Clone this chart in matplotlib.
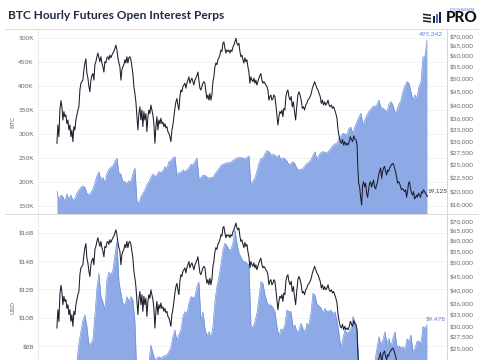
import numpy as np
import pandas as pd
import matplotlib
matplotlib.use("Agg")
import matplotlib.pyplot as plt
from matplotlib.ticker import FixedLocator, FuncFormatter, NullLocator
from matplotlib.lines import Line2D
from matplotlib.patches import Polygon

plt.rcParams['font.family'] = ['Lato', 'DejaVu Sans']

title = "BTC Hourly Futures Open Interest Perps"

# BTC price (USD) in three pieces
price_seg1 = [29400, 34100, 31000, 38500, 41500, 39500, 35500, 38000, 36450, 37000, 34450, 35500, 32750, 34100,
              31000, 32750, 29800, 33650, 32750, 35500, 37000, 38500, 39500, 45250, 47800, 48400, 49000, 53200,
              56300, 58200, 51700, 49800, 46500, 44600, 49000, 50900, 51700, 49000, 55500, 56900, 59200, 61000,
              58700, 56900, 59200, 56300, 54600, 52300, 56900, 56300, 58700, 59200, 57800, 60000, 58700, 60000,
              61000, 61800, 63400, 65000, 62500, 58700, 56300, 54600, 49000, 53200, 54600, 55500, 57800, 56300,
              59200, 56300, 58700, 59200, 57800, 54600, 51700, 46500, 44000, 41100, 36450, 32750, 37400, 39500,
              35500, 38500, 33650, 38000, 35500, 37400, 32300, 36450, 38500, 37400, 40050, 38500, 37000, 34450,
              29400, 33650, 36450, 32750, 35500, 34450, 36000, 34450, 34900, 33650, 34450, 33300, 33650, 32300,
              31900, 31000, 29800, 32750, 34100, 36450, 39000, 41100, 42200, 40050, 38500, 42900, 45250, 44600,
              46500, 47100, 47800, 45900, 47800, 49000, 50300, 47800, 49000, 49800, 48400, 47100, 49000, 49800,
              50900, 52300, 49000, 45900, 45250, 46500, 47800, 48400, 47800, 44600, 42200, 43450, 41700, 44000,
              41700, 43450, 48400, 50300, 54600, 56300, 55500, 57800, 58700, 60000, 62500, 61800, 66000, 66800,
              63400, 61000, 62500, 61800, 62500, 61000, 62500, 61800, 64000, 65000, 66800, 68700, 66000, 65000,
              66000, 61800, 59200, 60000, 57800, 56300, 58700, 56900, 57800, 54600, 52300, 47800, 50300, 49000,
              48400, 49800, 47800, 49000, 47100, 48400, 49800, 50900, 51700, 49000, 47800, 48400, 47800, 47100,
              46500, 45250, 41700, 42900, 43450, 41700, 42200, 43450, 42900, 40050, 37000, 34100, 36450, 38000,
              37400, 38500, 36450, 39000, 38500, 42900, 44600, 45250, 42900]
price_seg2 = [41700, 42900, 39500, 41100, 38000, 35500, 39500, 43450, 44600, 43450, 41700, 39000, 39500, 38500,
              40050, 40600, 41700, 42200, 42900, 44000, 45900, 47100, 48400, 47100, 45900, 45250, 44000, 42900,
              40600, 41700, 40050, 41100, 40050, 40600, 41700, 40050, 39500, 40050, 39000, 39500, 38500, 37400,
              36000, 32750, 31000, 29800, 29400, 30300, 29000, 29800, 29000, 29400, 29000, 29800, 31000, 30300,
              29800, 31200, 30500, 30300, 29000]
price_seg3 = [25000, 21300, 20650, 19000, 17850, 21000, 21550, 20650, 21300, 19650, 19000, 20200, 21300, 21550,
              20650, 21300, 21850, 20650, 20350, 21000, 21550, 22750, 23400, 24100, 22150, 23400, 24100, 24400,
              23400, 22750, 23700, 23400, 24100, 24400, 24750, 25000, 24750, 24100, 23400, 22450, 21300, 21550,
              21300, 20650, 20200, 20350, 20200, 19900, 20200, 19000, 19900, 21300, 21550, 20350, 19650, 19350,
              19900, 18750, 19000, 19350, 19000, 19650, 19350, 19000, 19900, 19650, 20200, 19900, 19650, 19350,
              19125]
price_spans = [("2021-01-01", "2022-02-10"), ("2022-02-12", "2022-06-09"), ("2022-06-10", "2022-10-10")]

# open interest in BTC (thousands) and in USD (billions), same dates
oi_start, oi_end = "2021-01-01", "2022-10-09"
oi_btc_k = [179.9, 162.5, 172.9, 169.4, 159.0, 175.0, 163.9, 172.9, 161.1, 166.0, 176.4, 183.3, 188.9, 191.7,
            188.9, 176.4, 172.9, 178.5, 184.7, 197.2, 212.5, 221.5, 204.2, 209.7, 197.2, 218.1, 226.4, 230.6,
            234.0, 242.4, 249.3, 218.1, 216.7, 200.7, 200.7, 195.8, 202.8, 200.7, 216.7, 229.0, 161.1, 155.6,
            169.4, 176.4, 183.3, 193.8, 200.7, 209.7, 216.7, 211.1, 214.6, 221.5, 219.4, 223.6, 231.9, 228.5,
            242.4, 244.5, 249.3, 252.8, 214.6, 219.4, 219.4, 225.0, 221.5, 225.0, 229.9, 236.8, 235.4, 242.4,
            250.0, 207.6, 209.0, 214.0, 214.0, 210.0, 208.0, 210.0, 209.0, 217.0, 222.0, 228.0, 234.0, 236.8,
            238.2, 240.0, 240.0, 241.0, 245.0, 247.2, 250.0, 250.7, 250.7, 250.0, 248.2, 251.0, 254.2, 193.8,
            202.1, 208.3, 222.2, 238.9, 248.6, 250.0, 258.3, 265.3, 263.2, 256.3, 257.0, 256.3, 250.7, 256.3,
            245.9, 250.7, 247.9, 243.8, 235.4, 238.9, 242.4, 237.5, 228.5, 225.0, 226.4, 228.5, 233.4, 238.9,
            241.0, 245.9, 254.9, 263.2, 245.9, 256.3, 261.1, 263.2, 261.8, 259.8, 265.3, 270.1, 276.4, 279.2,
            280.6, 291.0, 295.9, 301.4, 300.0, 298.0, 311.8, 313.9, 300.0, 315.0, 325.7, 335.0, 343.1, 318.7,
            330.0, 339.6, 347.0, 352.0, 356.9, 358.0, 360.4, 370.8, 355.0, 353.5, 350.0, 346.5, 362.0, 367.4,
            360.4, 343.1, 350.0, 362.0, 370.0, 388.2, 400.0, 409.0, 405.6, 388.2, 370.8, 381.3, 374.3, 398.6,
            409.0, 460.0, 462.0, 495.342]
oi_usd_b = [5.3, 5.0, 5.4, 5.5, 5.3, 5.7, 5.4, 5.8, 5.5, 5.6, 6.9, 8.2, 9.0, 9.83,
            10.18, 9.36, 8.06, 8.18, 8.42, 10.18, 12.07, 13.13, 11.48, 11.08, 10.54, 12.66, 13.2, 13.01,
            13.36, 14.42, 15.37, 12.54, 11.71, 11.01, 10.89, 11.48, 11.13, 11.48, 11.24, 9.71, 5.6, 5.4,
            5.8, 5.9, 6.1, 6.4, 6.8, 8.06, 7.48, 7.0, 7.12, 7.24, 7.12, 7.24, 7.31, 7.36,
            7.59, 7.87, 8.65, 9.12, 8.35, 8.82, 9.12, 10.07, 10.42, 10.30, 11.01, 11.48, 11.41, 11.48,
            12.19, 12.5, 9.8, 10.42, 9.24, 8.65, 9.0, 8.58, 9.36, 11.13, 12.19, 12.89, 13.76, 14.78, 15.25,
            15.08, 14.80, 14.80, 15.27, 16.19, 15.25, 14.56, 14.28, 14.0, 13.95, 13.83, 13.72, 9.41, 9.29,
            9.71, 10.30, 11.36, 12.54, 12.42, 11.60, 11.08, 10.89, 10.89, 10.70, 10.42, 9.36, 8.65, 9.19,
            9.12, 9.48, 10.54, 10.42, 10.42, 9.36, 9.48, 8.96, 9.12, 9.59, 9.19, 9.0, 9.59, 9.48,
            10.30, 11.71, 11.60, 10.94, 10.84, 10.70, 10.30, 10.65, 10.42, 10.47, 10.54, 10.23, 10.42, 9.83,
            8.89, 7.83, 8.53, 9.12, 8.89, 9.0, 9.24, 10.07, 9.71, 9.12, 6.6, 6.3, 6.2, 6.4,
            6.6, 6.5, 6.8, 6.7, 6.9, 7.83, 8.65, 8.06, 8.42, 9.0, 8.18, 8.53, 7.94, 8.53,
            9.0, 7.94, 7.99, 7.87, 7.94, 7.71, 8.49, 8.30, 8.77, 7.59, 7.83, 8.30, 8.35, 8.18,
            9.36, 9.24, 9.478]

btc_ticks = [150, 200, 250, 300, 350, 400, 450, 500]
usd_ticks = [8, 10, 12, 14, 16]
price_ticks = [18000, 20000, 22500, 25000, 27500, 30000, 33000, 36000, 40000, 45000,
               50000, 55000, 60000, 65000, 70000]

price = np.concatenate([price_seg1, price_seg2, price_seg3])
price_dates = pd.DatetimeIndex(np.concatenate(
    [pd.date_range(a, b, periods=len(s)).values
     for s, (a, b) in zip([price_seg1, price_seg2, price_seg3], price_spans)]))
oi_dates = pd.date_range(oi_start, oi_end, periods=len(oi_btc_k))

fill_c = '#8eaae6'
edge_c = '#6d90e0'
line_c = '#1c1d2b'
tick_c = '#666666'
lbl_c = '#5b82dc'
fs = 4.6

W, H = 485, 360
fig = plt.figure(figsize=(W / 100, H / 100), dpi=100)
ax1 = fig.add_axes([38 / W, (H - 214.7) / H, 409 / W, 184.7 / H])
ax2 = fig.add_axes([38 / W, (H - 399.4) / H, 409 / W, 184.7 / H])
xlim = (pd.Timestamp("2020-11-29"), pd.Timestamp("2022-11-13"))


def style_panel(ax, tw, ticks, fmt, ylim, pticks):
    ax.set_xlim(xlim)
    ax.set_ylim(ylim)
    ax.yaxis.set_major_locator(FixedLocator(ticks))
    ax.yaxis.set_major_formatter(FuncFormatter(fmt))
    ax.set_axisbelow(True)
    ax.yaxis.grid(True, color='#efefef', lw=0.6)
    ax.set_xticks([])
    ax.tick_params(axis='y', length=0, labelsize=fs, colors=tick_c, pad=3)
    for s in ['top', 'bottom', 'right']:
        ax.spines[s].set_visible(False)
    ax.spines['left'].set_color('#e8e8e8')
    ax.spines['left'].set_linewidth(0.6)

    tw.set_yscale('log')
    tw.set_ylim(16510, 73480)
    tw.yaxis.set_major_locator(FixedLocator(pticks))
    tw.yaxis.set_minor_locator(NullLocator())
    tw.yaxis.set_major_formatter(FuncFormatter(lambda v, p: "${:,.0f}".format(v)))
    tw.tick_params(axis='y', which='both', length=0, labelsize=fs, colors=tick_c, pad=2)
    for s in ['top', 'bottom', 'left']:
        tw.spines[s].set_visible(False)
    tw.spines['right'].set_color('#d6d6d6')
    tw.spines['right'].set_linewidth(0.7)


# top panel: OI in BTC
ax1.fill_between(oi_dates, oi_btc_k, 0, color=fill_c, lw=0)
ax1.plot(oi_dates, oi_btc_k, color=edge_c, lw=0.5)
tw1 = ax1.twinx()
tw1.plot(price_dates, price, color=line_c, lw=0.75)
style_panel(ax1, tw1, btc_ticks, lambda v, p: f"{v:.0f}K", (131.875, 516.67), price_ticks)

# bottom panel: OI in USD (lower part runs past the bottom of the image)
ax2.fill_between(oi_dates, oi_usd_b, 0, color=fill_c, lw=0)
ax2.plot(oi_dates, oi_usd_b, color=edge_c, lw=0.5)
tw2 = ax2.twinx()
tw2.plot(price_dates, price, color=line_c, lw=0.75)
style_panel(ax2, tw2, usd_ticks, lambda v, p: f"${v:.0f}B", (4.219, 17.272),
            [t for t in price_ticks if t >= 25000])

# end labels
ax1.annotate(f"{oi_btc_k[-1] * 1000:,.0f}", xy=(oi_dates[-1], oi_btc_k[-1]), xytext=(3, 5),
             textcoords='offset points', ha='center', va='center', fontsize=fs, color=lbl_c)
tw1.annotate(f"{price[-1]:,.0f}", xy=(price_dates[-1], price[-1]), xytext=(0.3, 4.2),
             textcoords='offset points', ha='left', va='center', fontsize=fs, color='#333333')
ax2.annotate(f"${oi_usd_b[-1]:.3f}", xy=(oi_dates[-1], oi_usd_b[-1]), xytext=(-0.7, 4.8),
             textcoords='offset points', ha='left', va='center', fontsize=fs, color=lbl_c)

# axis titles
fig.text(13 / W, 1 - 122 / H, "BTC", rotation=90, ha='center', va='center', fontsize=fs, color=tick_c)
fig.text(13 / W, 1 - 307 / H, "USD", rotation=90, ha='center', va='center', fontsize=fs, color=tick_c)

# title and separators
fig.text(8 / W, 1 - 15.5 / H, title, ha='left', va='center', fontsize=8.6, fontweight='bold', color='#1f2a44')
for yy in [29.3, 214.3]:
    fig.add_artist(Line2D([5 / W, 478 / W], [1 - yy / H] * 2, color='#dcdcdc', lw=0.7))

# logo
fig.text(462 / W, 1 - 17.8 / H, "PRO", ha='center', va='center', fontsize=11, fontweight='black', color='#111111')
fig.text(462 / W, 1 - 9.6 / H, "BITCOIN MAGAZINE", ha='center', va='center', fontsize=1.8, color='#4a6fd0')
for x0, y0 in [(423, 13.5), (423, 16.8), (423, 20.1)]:
    pts = [(x0, y0), (x0 + 8, y0 + 1), (x0 + 8, y0 + 2.6), (x0, y0 + 1.6)]
    fig.add_artist(Polygon([(px / W, 1 - py / H) for px, py in pts], closed=True,
                           transform=fig.transFigure, color='#1b2233', lw=0))
for x0, top, c in [(433.5, 16, '#1b2233'), (436.5, 13.5, '#4a6fd0'), (439.5, 12, '#1b2233')]:
    pts = [(x0, top), (x0 + 1.8, top), (x0 + 1.8, 22.5), (x0, 22.5)]
    fig.add_artist(Polygon([(px / W, 1 - py / H) for px, py in pts], closed=True,
                           transform=fig.transFigure, color=c, lw=0))

fig.savefig("out.png", dpi=100)
